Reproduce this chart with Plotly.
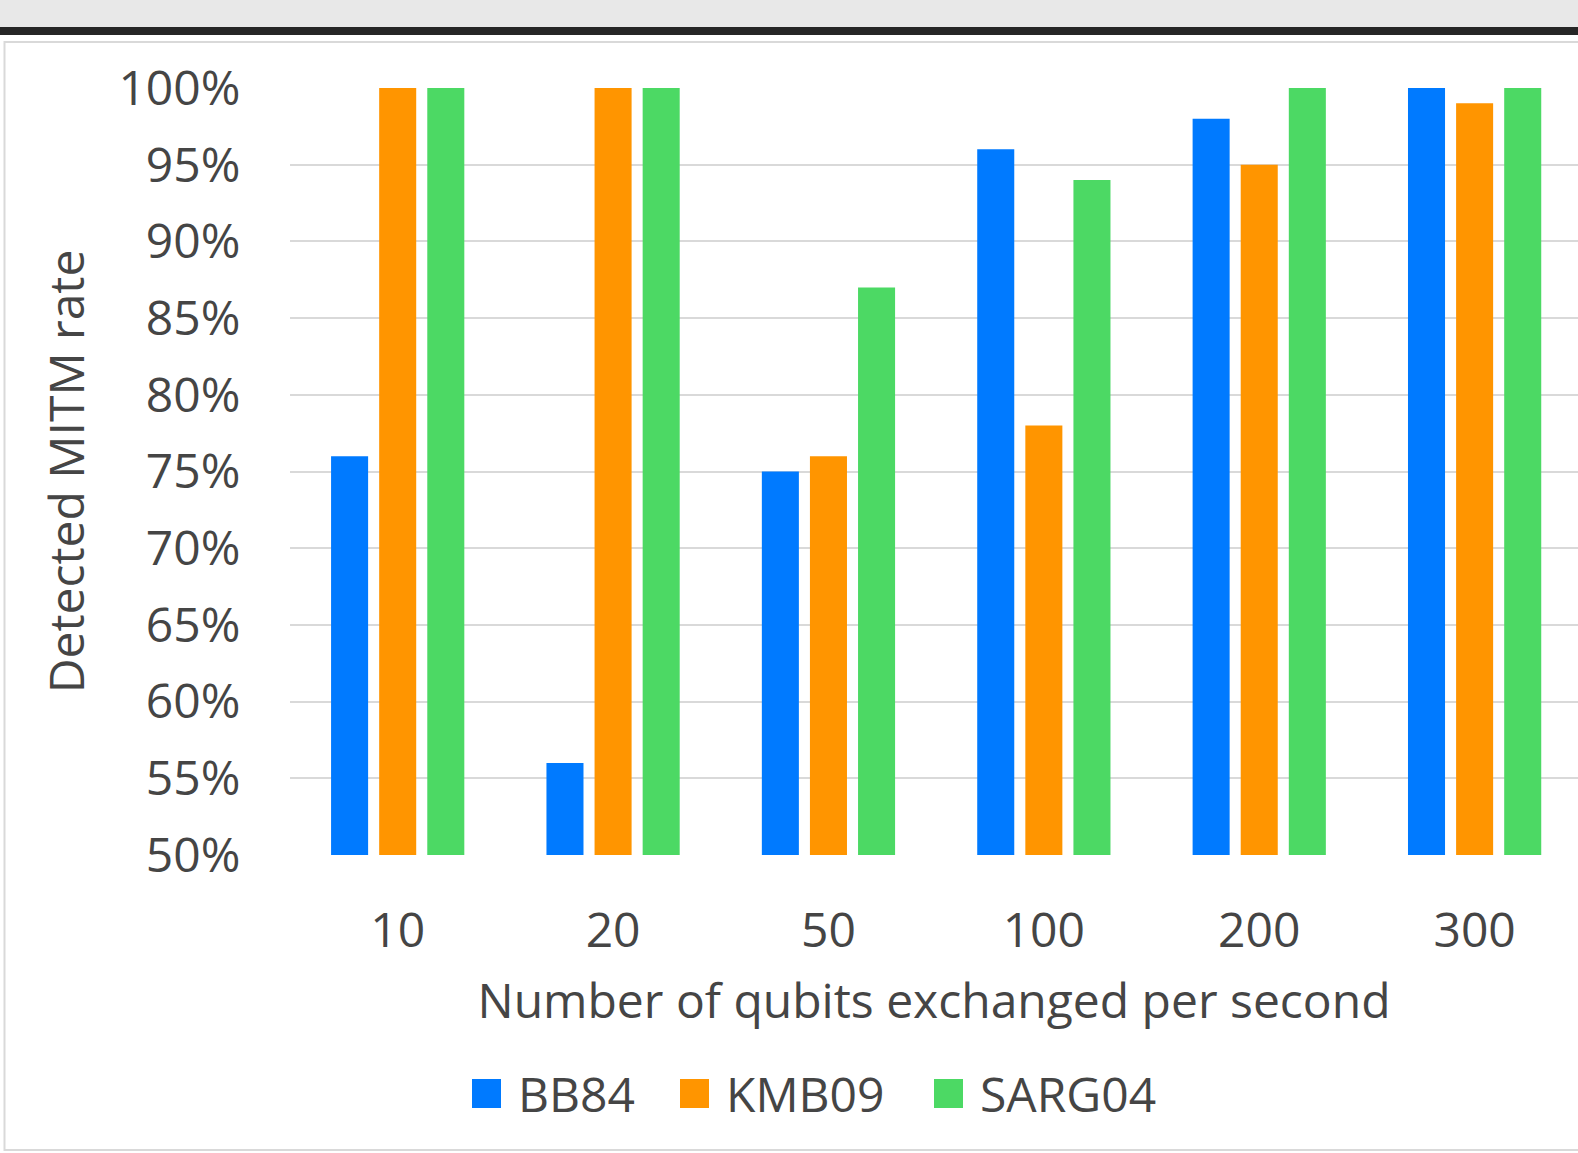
import plotly.graph_objects as go

categories = ["10", "20", "50", "100", "200", "300"]
bb84 = [76, 56, 75, 96, 98, 100]
kmb09 = [100, 100, 76, 78, 95, 99]
sarg04 = [100, 100, 87, 94, 100, 100]
series_names = ["BB84", "KMB09", "SARG04"]
colors = ["#007AFF", "#FF9500", "#4CD964"]

W, H = 1578, 1153
L, R, T, B = 290, 0, 88, 298
pw, ph = W - L - R, H - T - B

def px(x):
    return (x - L) / pw

def py(y):
    return (H - B - y) / ph

fig = go.Figure()
for name, vals, c in zip(series_names, [bb84, kmb09, sarg04], colors):
    fig.add_trace(go.Bar(x=categories, y=vals, name=name, showlegend=False,
                         marker=dict(color=c, line=dict(width=0))))

font_color = "#454545"
fam = "Open Sans, Noto Sans, sans-serif"
fs = 48

shapes = [
    dict(type="rect", xref="paper", yref="paper", x0=px(-5), x1=px(W + 5), y0=py(27), y1=py(-5),
         fillcolor="#e8e8e8", line=dict(width=0), layer="below"),
    dict(type="rect", xref="paper", yref="paper", x0=px(-5), x1=px(W + 5), y0=py(35), y1=py(27),
         fillcolor="#262626", line=dict(width=0), layer="below"),
    dict(type="rect", xref="paper", yref="paper", x0=px(4.5), x1=px(W + 20), y0=py(1150), y1=py(42),
         fillcolor="rgba(0,0,0,0)", line=dict(width=2, color="#d9d9d9"), layer="below"),
]
annotations = []
legend_x = [472, 680, 934]
for name, c, lx in zip(series_names, colors, legend_x):
    shapes.append(dict(type="rect", xref="paper", yref="paper", x0=px(lx), x1=px(lx + 29),
                       y0=py(1108), y1=py(1079), fillcolor=c, line=dict(width=0)))
    annotations.append(dict(xref="paper", yref="paper", x=px(lx + 44), y=py(1093), text=name,
                            showarrow=False, xanchor="left", yanchor="middle",
                            font=dict(size=fs, color=font_color, family=fam)))

fig.update_layout(
    width=W, height=H,
    margin=dict(l=L, r=R, t=T, b=B, pad=0),
    paper_bgcolor="white", plot_bgcolor="white",
    barmode="group", bargap=0.33, bargroupgap=0.23,
    font=dict(family=fam, color=font_color, size=fs),
    showlegend=False,
    xaxis=dict(range=[-0.5, 5.48], showgrid=False, showline=False, zeroline=False,
               ticks="outside", ticklen=33, tickcolor="rgba(0,0,0,0)",
               tickfont=dict(size=fs, color=font_color),
               title=dict(text="Number of qubits exchanged per second", font=dict(size=fs, color=font_color), standoff=24)),
    yaxis=dict(range=[50, 100], dtick=5, ticksuffix="%", showgrid=True, gridcolor="#d9d9d9", gridwidth=2,
               zeroline=False, showline=False,
               ticks="outside", ticklen=39, tickcolor="rgba(0,0,0,0)",
               tickfont=dict(size=fs, color=font_color),
               title=dict(text="Detected MITM rate", font=dict(size=fs, color=font_color), standoff=18)),
    shapes=shapes,
    annotations=annotations,
)

fig.write_html("out.html", config={"displayModeBar": False},
               post_script="document.body.style.margin='0';document.body.style.overflow='hidden';")
